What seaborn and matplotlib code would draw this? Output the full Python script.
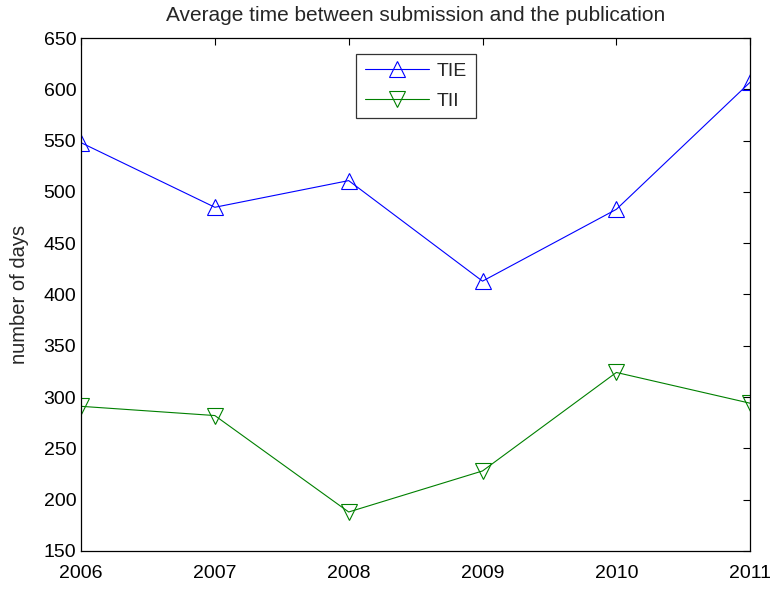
import pandas as pd
import seaborn as sns
import matplotlib.pyplot as plt

years = [2006, 2007, 2008, 2009, 2010, 2011]
tie = [548, 485, 511, 413, 483, 607]
tii = [291, 282, 188, 228, 324, 294]

df = pd.DataFrame({'Year': years, 'TIE': tie, 'TII': tii})

sns.set_style('white')
plt.rcParams['font.family'] = ['Liberation Sans', 'DejaVu Sans']

fig = plt.figure(figsize=(7.75, 5.92), dpi=100)
ax = fig.add_axes([0.1045, 0.0693, 0.8635, 0.8665])

sns.lineplot(x='Year', y='TIE', data=df, ax=ax, color='blue', marker='^',
             markersize=12, markerfacecolor='none', markeredgecolor='blue',
             markeredgewidth=0.8, linewidth=0.8, label='TIE')
sns.lineplot(x='Year', y='TII', data=df, ax=ax, color='green', marker='v',
             markersize=12, markerfacecolor='none', markeredgecolor='green',
             markeredgewidth=0.8, linewidth=0.8, label='TII')

ax.set_xlim(2006, 2011)
ax.set_ylim(150, 650)
ax.set_xticks(years)
ax.set_yticks(range(150, 651, 50))
ax.tick_params(direction='in', length=5, width=0.8, labelsize=14, top=True, right=True,
               labeltop=False, labelright=False, colors='black')
ax.tick_params(axis='x', pad=10)
for s in ax.spines.values():
    s.set_color('black')
    s.set_linewidth(0.9)

ax.set_title('Average time between submission and the publication', fontsize=15, pad=12)
ax.set_xlabel('')
ax.set_ylabel('number of days', fontsize=14.5, labelpad=10)

leg = ax.legend(loc='upper left', bbox_to_anchor=(0.411, 0.969), fontsize=14,
                frameon=True, fancybox=False, edgecolor='black', handlelength=3.3,
                handletextpad=0.4, borderpad=0.45, labelspacing=0.6, borderaxespad=0)
leg.get_frame().set_linewidth(0.9)

fig.savefig('out.png', dpi=100)
